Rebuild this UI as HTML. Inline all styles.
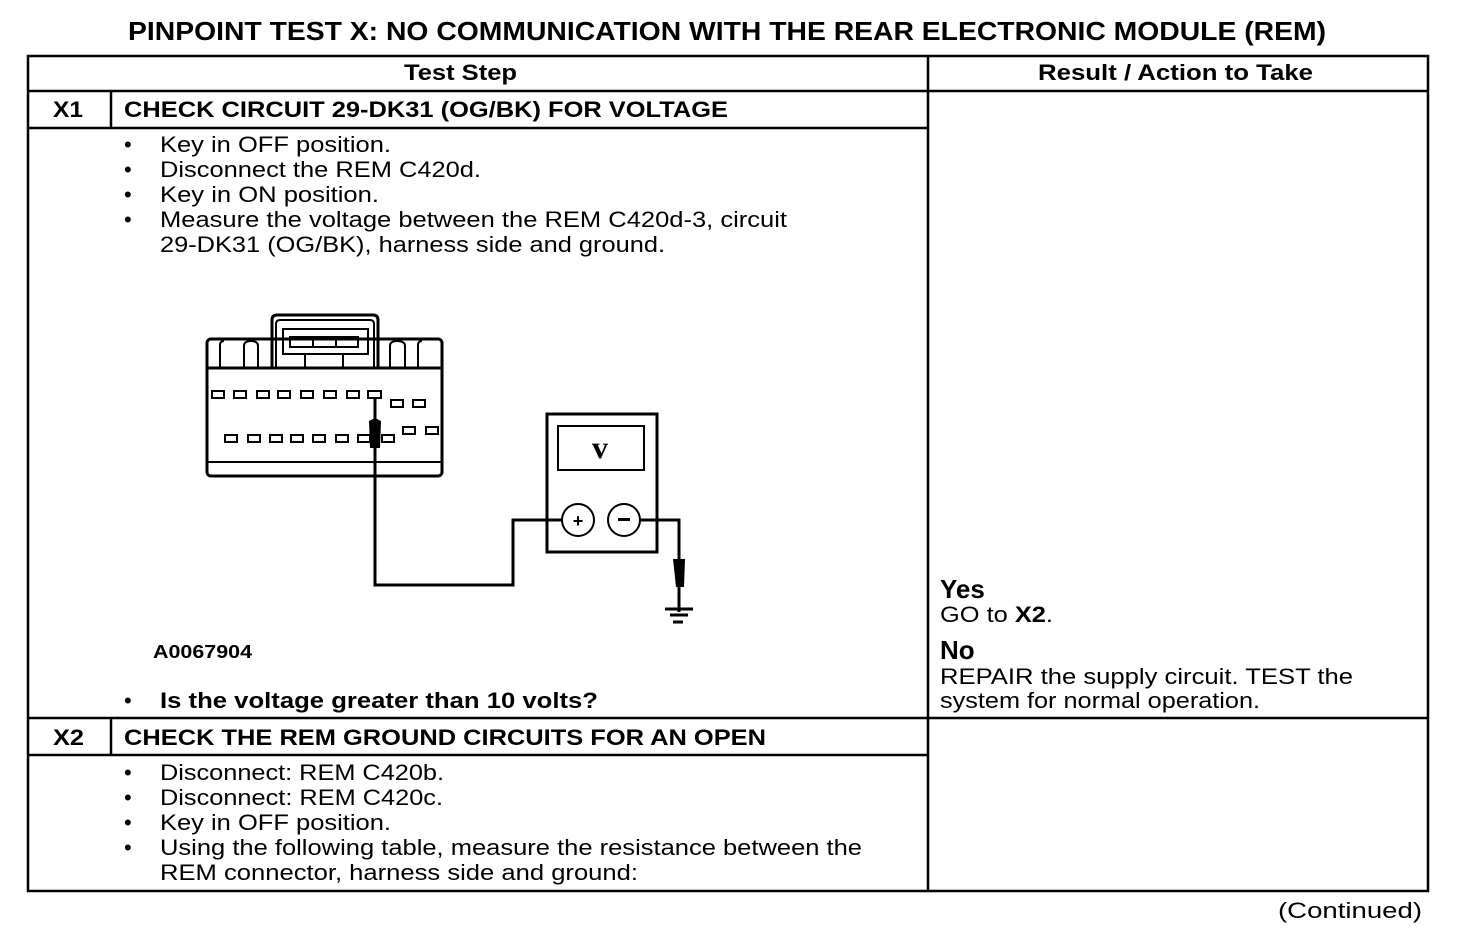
<!DOCTYPE html>
<html><head><style>html,body{margin:0;padding:0;background:#fff;}svg{display:block;}</style></head>
<body>
<svg width="1472" height="940" viewBox="0 0 1472 940" xmlns="http://www.w3.org/2000/svg" font-family="'Liberation Sans', Arial, sans-serif" fill="#000">
<text x="128" y="40" font-size="26" font-weight="bold" textLength="1198" lengthAdjust="spacingAndGlyphs">PINPOINT TEST  X: NO COMMUNICATION WITH THE REAR ELECTRONIC MODULE (REM)</text>
<g stroke="#000" stroke-width="2.5" fill="none">
<rect x="28" y="56" width="1400" height="835"/>
<line x1="28" y1="91" x2="1428" y2="91"/>
<line x1="928" y1="56" x2="928" y2="891"/>
<line x1="28" y1="128" x2="928" y2="128"/>
<line x1="111" y1="91" x2="111" y2="128"/>
<line x1="28" y1="718" x2="1428" y2="718"/>
<line x1="28" y1="755" x2="928" y2="755"/>
<line x1="111" y1="718" x2="111" y2="755"/>
</g>
<g font-size="22" font-weight="bold">
<text x="404" y="80" textLength="113" lengthAdjust="spacingAndGlyphs">Test Step</text>
<text x="1038" y="80" textLength="275" lengthAdjust="spacingAndGlyphs">Result / Action to Take</text>
<text x="53" y="117" textLength="30" lengthAdjust="spacingAndGlyphs">X1</text>
<text x="124" y="117" textLength="604" lengthAdjust="spacingAndGlyphs">CHECK CIRCUIT 29-DK31 (OG/BK) FOR VOLTAGE</text>
<text x="53" y="745" textLength="31" lengthAdjust="spacingAndGlyphs">X2</text>
<text x="124" y="745" textLength="642" lengthAdjust="spacingAndGlyphs">CHECK THE REM GROUND CIRCUITS FOR AN OPEN</text>
<text x="160" y="708" textLength="438" lengthAdjust="spacingAndGlyphs">Is the voltage greater than 10 volts?</text>
</g>
<g font-size="22">
<text x="124" y="152">•</text><text x="160" y="152" textLength="231" lengthAdjust="spacingAndGlyphs">Key in OFF position.</text>
<text x="124" y="177">•</text><text x="160" y="177" textLength="321" lengthAdjust="spacingAndGlyphs">Disconnect the REM C420d.</text>
<text x="124" y="202">•</text><text x="160" y="202" textLength="219" lengthAdjust="spacingAndGlyphs">Key in ON position.</text>
<text x="124" y="227">•</text><text x="160" y="227" textLength="627" lengthAdjust="spacingAndGlyphs">Measure the voltage between the REM C420d-3, circuit</text>
<text x="160" y="252" textLength="505" lengthAdjust="spacingAndGlyphs">29-DK31 (OG/BK), harness side and ground.</text>
<text x="124" y="708">•</text>
<text x="124" y="780">•</text><text x="160" y="780" textLength="284" lengthAdjust="spacingAndGlyphs">Disconnect: REM C420b.</text>
<text x="124" y="805">•</text><text x="160" y="805" textLength="283" lengthAdjust="spacingAndGlyphs">Disconnect: REM C420c.</text>
<text x="124" y="830">•</text><text x="160" y="830" textLength="231" lengthAdjust="spacingAndGlyphs">Key in OFF position.</text>
<text x="124" y="855">•</text><text x="160" y="855" textLength="702" lengthAdjust="spacingAndGlyphs">Using the following table, measure the resistance between the</text>
<text x="160" y="880" textLength="478" lengthAdjust="spacingAndGlyphs">REM connector, harness side and ground:</text>
<text x="940" y="622" textLength="113" lengthAdjust="spacingAndGlyphs">GO to <tspan font-weight="bold">X2</tspan>.</text>
<text x="940" y="684" textLength="413" lengthAdjust="spacingAndGlyphs">REPAIR the supply circuit. TEST the</text>
<text x="940" y="708" textLength="320" lengthAdjust="spacingAndGlyphs">system for normal operation.</text>
<text x="1278" y="918" textLength="144" lengthAdjust="spacingAndGlyphs">(Continued)</text>
</g>
<text x="940" y="598" font-size="26" font-weight="bold">Yes</text>
<text x="940" y="659" font-size="26" font-weight="bold">No</text>
<text x="153" y="658" font-size="18" font-weight="bold" textLength="99" lengthAdjust="spacingAndGlyphs">A0067904</text>
<g stroke="#000" fill="none" stroke-width="3">
<rect x="207" y="339" width="235" height="137" rx="4"/>
<line x1="207" y1="368" x2="442" y2="368"/>
<line x1="207" y1="462" x2="442" y2="462" stroke-width="2"/>
<path d="M272 368 V320 Q272 315 277 315 H373 Q378 315 378 320 V368"/>
<path d="M276 368 V324 Q276 320 280 320 H370 Q374 320 374 324 V368" stroke-width="2"/>
<rect x="283" y="329" width="85" height="25" stroke-width="2"/>
<rect x="290" y="337" width="68" height="10" stroke-width="2"/>
<line x1="313" y1="337" x2="313" y2="347" stroke-width="2"/>
<line x1="336" y1="337" x2="336" y2="347" stroke-width="2"/>
<line x1="305" y1="354" x2="305" y2="368" stroke-width="2"/>
<line x1="343" y1="354" x2="343" y2="368" stroke-width="2"/>
<path d="M220 368 V345 Q220 341 224 341" stroke-width="2"/>
<path d="M244 368 V346 Q244 341 251 341 Q258 341 258 346 V368" stroke-width="2"/>
<path d="M390 368 V346 Q390 341 397 341 Q405 341 405 346 V368" stroke-width="2"/>
<path d="M418 368 V345 Q418 341 422 341" stroke-width="2"/>
<g stroke-width="2">
<rect x="212" y="391" width="12" height="7"/><rect x="234" y="391" width="12" height="7"/><rect x="257" y="391" width="12" height="7"/><rect x="278" y="391" width="12" height="7"/><rect x="301" y="391" width="12" height="7"/><rect x="324" y="391" width="12" height="7"/><rect x="347" y="391" width="12" height="7"/><rect x="368" y="391" width="13" height="7"/>
<rect x="391" y="400" width="12" height="7"/><rect x="413" y="400" width="12" height="7"/>
<rect x="225" y="435" width="12" height="7"/><rect x="248" y="435" width="12" height="7"/><rect x="270" y="435" width="12" height="7"/><rect x="291" y="435" width="12" height="7"/><rect x="313" y="435" width="12" height="7"/><rect x="336" y="435" width="12" height="7"/><rect x="358" y="435" width="12" height="7"/><rect x="382" y="435" width="12" height="7"/>
<rect x="403" y="427" width="12" height="7"/><rect x="426" y="427" width="12" height="7"/>
</g>
<polyline points="375,398 375,585 513,585 513,520 562,520"/>
<rect x="547" y="414" width="110" height="138"/>
<rect x="558" y="426" width="86" height="44" stroke-width="2"/>
<circle cx="578" cy="520" r="16" stroke-width="2"/>
<circle cx="624" cy="520" r="16" stroke-width="2"/>
<polyline points="640,520 679,520 679,612"/>
<line x1="665" y1="609" x2="693" y2="609"/>
<line x1="670" y1="615" x2="688" y2="615"/>
<line x1="673" y1="622" x2="683" y2="622"/>
</g>
<path d="M369 421 L375 418 L381 421 L380 448 L370 448 Z"/>
<path d="M673 559 L685 559 L684 587 L676 587 Z"/>
<text x="600" y="458" font-size="32" font-weight="bold" text-anchor="middle" font-family="'Liberation Serif', serif">v</text>
<text x="578" y="527" font-size="18" font-weight="bold" text-anchor="middle">+</text>
<rect x="618" y="518" width="12" height="3"/>
</svg>
</body></html>
